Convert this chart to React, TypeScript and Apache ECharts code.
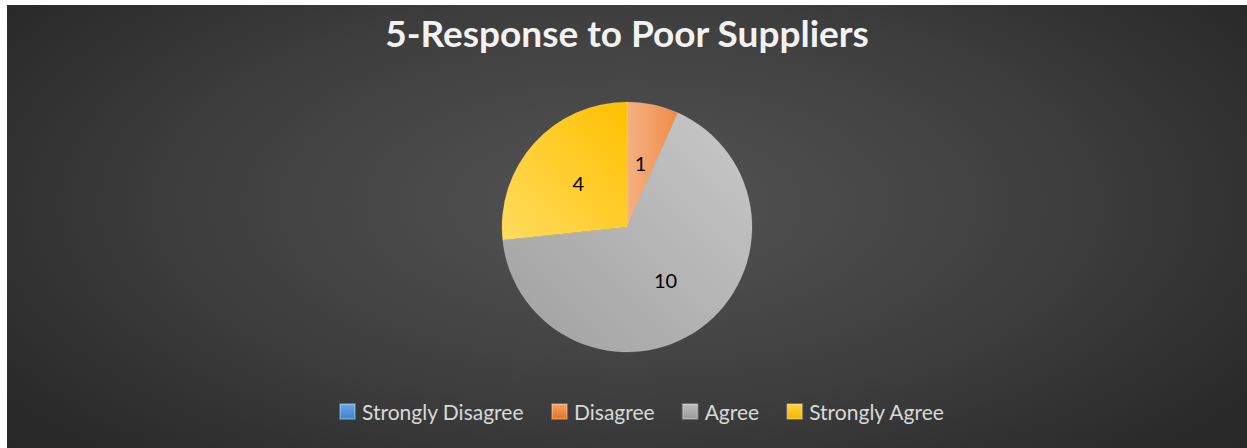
import React, { useEffect, useRef } from "react";
import * as echarts from "echarts";

const titleText = "5-Response to Poor Suppliers";
const categories = ["Strongly Disagree", "Disagree", "Agree", "Strongly Agree"];
const values = [0, 1, 10, 4];

const grad = (x: number, y: number, x2: number, y2: number, c1: string, c2: string) =>
  new echarts.graphic.LinearGradient(x, y, x2, y2, [
    { offset: 0, color: c1 },
    { offset: 1, color: c2 },
  ]);

const sliceColors = [
  grad(0, 0, 1, 1, "#7fb0e3", "#3a7dc9"),
  grad(0, 0, 1, 0, "#f4b183", "#f08c48"),
  grad(1, 0, 0, 1, "#c8c8c8", "#a0a0a0"),
  grad(0, 1, 1, 0, "#ffdc5e", "#ffc000"),
];

const legendColors = [
  grad(0, 0, 0, 1, "#6aa7e6", "#3a83d1"),
  grad(0, 0, 0, 1, "#f4a26c", "#e8711f"),
  grad(0, 0, 0, 1, "#bdbdbd", "#9a9a9a"),
  grad(0, 0, 0, 1, "#ffd23f", "#f2b800"),
];

export default function App() {
  const ref = useRef<HTMLDivElement>(null);
  useEffect(() => {
    if (!ref.current) return;
    const chart = echarts.init(ref.current, undefined, { renderer: "svg" });
    chart.setOption({
      animation: false,
      backgroundColor: "transparent",
      title: {
        text: titleText,
        left: "center",
        top: 4,
        textStyle: {
          color: "#f2f2f2",
          fontSize: 37,
          fontWeight: "bold",
          fontFamily: "Lato, 'Open Sans', sans-serif",
        },
      },
      legend: {
        bottom: 21,
        left: 327,
        itemWidth: 15,
        itemHeight: 15,
        itemGap: 27,
        icon: "rect",
        textStyle: {
          color: "#d9d9d9",
          fontSize: 21,
          fontFamily: "Lato, 'Open Sans', sans-serif",
          padding: [0, 0, 0, 2],
        },
        data: categories.map((c, i) => ({
          name: c,
          itemStyle: { color: legendColors[i] },
        })),
      },
      series: [
        {
          type: "pie",
          center: [620, 222],
          radius: 125,
          startAngle: 90,
          clockwise: true,
          label: {
            show: true,
            position: "inside",
            color: "#000",
            fontSize: 20,
            fontFamily: "Lato, 'Open Sans', sans-serif",
            formatter: (p: any) => (p.value === 0 ? "" : String(p.value)),
          },
          labelLine: { show: false },
          itemStyle: { borderColor: "rgba(255,255,255,0.25)", borderWidth: 0.5 },
          emphasis: { disabled: true },
          data: categories.map((c, i) => ({
            name: c,
            value: values[i],
            itemStyle: { color: sliceColors[i] },
          })),
        },
      ],
    });
    return () => chart.dispose();
  }, []);
  return (
    <div
      style={{
        position: "absolute",
        left: 7,
        top: 5,
        width: 1240,
        height: 443,
        background:
          "radial-gradient(ellipse 70% 90% at 50% 45%, #545454 0%, #3e3e3e 50%, #2a2a2a 85%, #262626 100%)",
      }}
    >
      <div ref={ref} style={{ width: 1240, height: 443 }} />
    </div>
  );
}
